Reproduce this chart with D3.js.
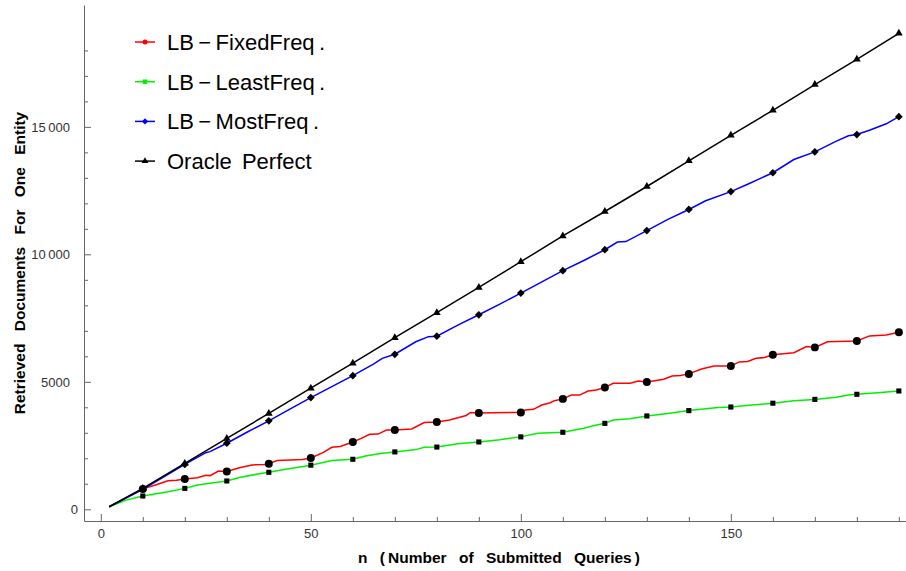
<!DOCTYPE html>
<html>
<head>
<meta charset="utf-8">
<script src="https://cdnjs.cloudflare.com/ajax/libs/d3/7.8.5/d3.min.js"></script>
<style>
body { margin: 0; background: #fff; }
text { font-family: "Liberation Sans", Arial, sans-serif; }
</style>
</head>
<body>
<div id="chart"></div>
<script>
var width = 906
var height = 571

// series values, [n, documents]
var fixedFreq = [[2,100],[10,800],[13,950],[16,1120],[18,1140],[20,1190],[23,1240],[25,1330],[26,1320],[28,1500],[30,1480],[33,1630],[36,1740],[39,1760],[40,1790],[42,1910],[48,1950],[50,2010],[53,2230],[55,2430],[57,2460],[60,2640],[62,2780],[64,2940],[66,2950],[68,3110],[70,3110],[74,3150],[77,3400],[80,3420],[83,3500],[85,3590],[87,3680],[88,3800],[90,3780],[100,3800],[101,3890],[103,3920],[105,4090],[107,4180],[108,4260],[110,4330],[112,4480],[114,4480],[116,4640],[118,4680],[120,4780],[122,4940],[126,4940],[128,5030],[130,4990],[134,5100],[136,5230],[138,5250],[140,5310],[143,5500],[146,5620],[150,5620],[152,5780],[154,5800],[156,5920],[158,5950],[160,6060],[165,6140],[168,6380],[170,6350],[173,6570],[180,6600],[183,6800],[187,6840],[190,6940]]
var leastFreq = [[2,100],[6,360],[10,520],[16,690],[20,820],[23,950],[26,1020],[30,1110],[33,1250],[37,1370],[40,1450],[44,1570],[50,1730],[55,1910],[60,1960],[63,2090],[67,2200],[70,2250],[75,2340],[77,2430],[80,2440],[85,2570],[90,2640],[95,2730],[100,2840],[104,2980],[110,3020],[115,3180],[117,3270],[120,3370],[122,3500],[126,3550],[130,3660],[135,3760],[140,3870],[147,3990],[150,4010],[155,4090],[160,4160],[165,4260],[170,4310],[175,4390],[178,4480],[180,4510],[185,4570],[190,4640]]
var mostFreq = [[2,100],[10,780],[20,1760],[25,2220],[26,2260],[30,2590],[35,3040],[40,3470],[45,3930],[50,4380],[55,4810],[60,5240],[65,5700],[67,5920],[70,6080],[75,6570],[78,6770],[80,6790],[85,7220],[90,7630],[95,8050],[100,8480],[105,8920],[110,9360],[115,9760],[120,10180],[123,10480],[125,10500],[130,10930],[135,11370],[140,11760],[144,12100],[150,12460],[154,12750],[160,13200],[165,13720],[170,14020],[175,14430],[178,14650],[180,14700],[183,14870],[187,15120],[190,15400]]
var oraclePerfect = [[2,100],[10,820],[20,1800],[30,2780],[40,3760],[50,4750],[60,5730],[70,6730],[80,7710],[90,8700],[100,9710],[110,10720],[120,11680],[130,12660],[140,13670],[150,14670],[160,15650],[170,16660],[180,17650],[190,18670]]

var markerN = [10,20,30,40,50,60,70,80,90,100,110,120,130,140,150,160,170,180,190]
var xMajor = [0,50,100,150]
var yMajor = [0,5000,10000,15000]
var yLabels = ["0","5000","10\u2009000","15\u2009000"]

var series = [
  {name: "LB\u2009\u2212\u2009FixedFreq\u2009.", values: fixedFreq, color: "#ff0000", symbol: "circle"},
  {name: "LB\u2009\u2212\u2009LeastFreq\u2009.", values: leastFreq, color: "#00f000", symbol: "square"},
  {name: "LB\u2009\u2212\u2009MostFreq\u2009.", values: mostFreq, color: "#0000ff", symbol: "diamond"},
  {name: "Oracle Perfect", values: oraclePerfect, color: "#000000", symbol: "triangle"}
]

var svg = d3.select("#chart").append("svg")
  .attr("width", width)
  .attr("height", height)

var x = d3.scaleLinear().domain([-4, 191.7]).range([84, 906])
var y = d3.scaleLinear().domain([-460, 19780]).range([521, 5])

var axisColor = "#666"

// x axis
var xAxis = svg.append("g")
  .attr("transform", "translate(0,521)")
  .call(d3.axisBottom(x).tickValues(d3.range(0, 191, 10)).tickSize(0).tickFormat(""))
xAxis.select(".domain").attr("stroke", axisColor)
xAxis.selectAll(".tick").append("line")
  .attr("y2", d => xMajor.includes(d) ? -7 : -4)
  .attr("stroke", axisColor)
xAxis.selectAll(".tick").filter(d => xMajor.includes(d)).append("text")
  .attr("y", 17)
  .attr("fill", "#333")
  .style("font-size", "13px")
  .attr("text-anchor", "middle")
  .text(d => d)

// y axis
var yAxis = svg.append("g")
  .attr("transform", "translate(84,0)")
  .call(d3.axisLeft(y).tickValues(d3.range(0, 19000, 1000)).tickSize(0).tickFormat(""))
yAxis.select(".domain").attr("stroke", axisColor)
yAxis.selectAll(".tick").append("line")
  .attr("x2", d => yMajor.includes(d) ? 7 : 4)
  .attr("stroke", axisColor)
yAxis.selectAll(".tick").filter(d => yMajor.includes(d)).append("text")
  .attr("x", d => d === 0 ? -6 : -14)
  .attr("dy", "0.35em")
  .attr("fill", "#333")
  .style("font-size", "13px")
  .attr("text-anchor", "end")
  .text(d => yLabels[yMajor.indexOf(d)])

// axis titles
svg.append("text")
  .attr("x", 499)
  .attr("y", 563)
  .attr("text-anchor", "middle")
  .style("font-size", "15.5px")
  .style("font-weight", "bold")
  .style("word-spacing", "8px")
  .text("n (\u2009Number of Submitted Queries\u2009)")

svg.append("text")
  .attr("transform", "translate(25,263) rotate(-90)")
  .attr("text-anchor", "middle")
  .style("font-size", "15.5px")
  .style("font-weight", "bold")
  .style("word-spacing", "8px")
  .text("Retrieved Documents For One Entity")

var line = d3.line()
  .x(d => x(d[0]))
  .y(d => y(d[1]))

var symbols = {
  circle: d3.symbol().type(d3.symbolCircle).size(50),
  square: d3.symbol().type(d3.symbolSquare).size(26),
  diamond: d3.symbol().type(d3.symbolSquare).size(30),
  triangle: d3.symbol().type(d3.symbolTriangle).size(26)
}
var rotate = {circle: 0, square: 0, diamond: 45, triangle: 0}

svg.selectAll(".series")
  .data(series)
  .enter()
  .append("path")
  .attr("class", "series")
  .attr("d", d => line(d.values))
  .attr("fill", "none")
  .attr("stroke", d => d.color)
  .attr("stroke-width", 1.5)

// black markers every 10 queries
series.forEach(function(s) {
  var pts = s.values.filter(p => markerN.includes(p[0]))
  svg.append("g").selectAll("path")
    .data(pts)
    .enter()
    .append("path")
    .attr("transform", d => "translate(" + x(d[0]) + "," + y(d[1]) + ") rotate(" + rotate[s.symbol] + ")")
    .attr("d", symbols[s.symbol]())
    .attr("fill", "#000")
})

// legend
var legend = svg.append("g")
  .attr("transform", "translate(135,42)")
var row = legend.selectAll("g")
  .data(series)
  .enter()
  .append("g")
  .attr("transform", (d, i) => "translate(0," + i * 39.7 + ")")
row.append("line")
  .attr("x1", 0).attr("x2", 20)
  .attr("stroke", d => d.color)
  .attr("stroke-width", 1.5)
row.append("path")
  .attr("transform", d => "translate(10,0) rotate(" + rotate[d.symbol] + ")")
  .attr("d", d => symbols[d.symbol].size(20)())
  .attr("fill", d => d.color)
row.append("text")
  .attr("x", 32)
  .attr("dy", "0.36em")
  .style("font-size", "22px")
  .style("word-spacing", "4px")
  .text(d => d.name)

// restore marker sizes after legend reuse
symbols.circle.size(50); symbols.square.size(26); symbols.diamond.size(30); symbols.triangle.size(26)
</script>
</body>
</html>
